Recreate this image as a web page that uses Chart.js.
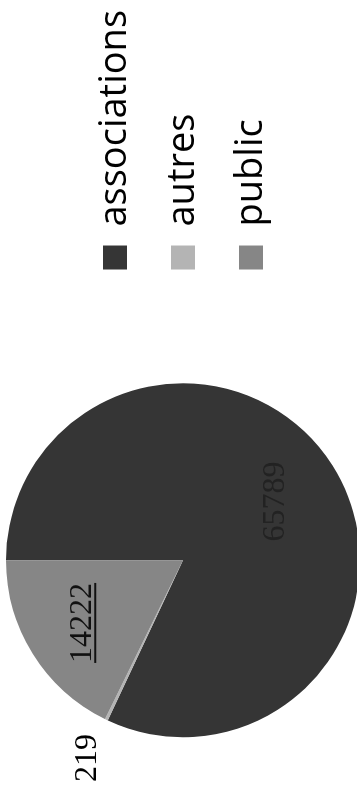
<!DOCTYPE html>
<html>
<head>
<meta charset="utf-8">
<script src="https://cdn.jsdelivr.net/npm/chart.js@4.4.1/dist/chart.umd.min.js"></script>
<style>
  html, body { margin: 0; padding: 0; background: #fff; overflow: hidden; }
  /* le graphique est scanné couché : on le dessine à l'horizontale puis on le tourne */
  #wrap {
    position: absolute; left: 0; top: 0;
    width: 821px; height: 366px;
    transform-origin: 0 0;
    transform: translate(0, 821px) rotate(-90deg);
  }
</style>
</head>
<body>
<div id="wrap"><canvas id="camembert" width="821" height="366"></canvas></div>
<script>
var categories = ['associations', 'autres', 'public'];
var valeurs = [65789, 219, 14222];
var couleurs = ['#353535', '#b4b4b4', '#868686'];

// étiquettes de valeurs posées sur chaque part
var etiquettes = {
    id: 'etiquettes',
    afterDatasetsDraw: function (chart) {
        var ctx = chart.ctx;
        var meta = chart.getDatasetMeta(0);
        var dist = [0.62, 1.24, 0.67];
        var teintes = ['#222', '#000', '#111'];
        ctx.save();
        ctx.font = '32px "Liberation Serif", serif';
        ctx.textAlign = 'center';
        ctx.textBaseline = 'middle';
        meta.data.forEach(function (arc, i) {
            var p = arc.getProps(['x', 'y', 'startAngle', 'endAngle', 'outerRadius'], true);
            var milieu = (p.startAngle + p.endAngle) / 2;
            var r = p.outerRadius * dist[i];
            var x = p.x + Math.cos(milieu) * r;
            var y = p.y + Math.sin(milieu) * r;
            var txt = String(valeurs[i]);
            ctx.fillStyle = teintes[i];
            ctx.fillText(txt, x, y);
            if (i === 2) {
                // souligné
                var w = ctx.measureText(txt).width;
                ctx.strokeStyle = teintes[i];
                ctx.lineWidth = 2;
                ctx.beginPath();
                ctx.moveTo(x - w / 2, y + 13);
                ctx.lineTo(x + w / 2, y + 13);
                ctx.stroke();
            }
        });
        ctx.restore();
    }
};

var ctx = document.getElementById('camembert').getContext('2d');
var graphique = new Chart(ctx, {
    type: 'pie',
    data: {
        labels: categories,
        datasets: [{
            data: valeurs,
            backgroundColor: couleurs,
            borderWidth: 0
        }]
    },
    options: {
        responsive: false,
        animation: false,
        layout: { padding: { top: 6, bottom: 6, left: 0, right: 0 } },
        plugins: {
            tooltip: { enabled: false },
            legend: {
                position: 'right',
                align: 'center',
                labels: {
                    color: '#000',
                    font: { family: '"Open Sans", sans-serif', size: 38 },
                    boxWidth: 24,
                    boxHeight: 24,
                    padding: 30
                }
            }
        }
    },
    plugins: [etiquettes]
});
</script>
</body>
</html>
